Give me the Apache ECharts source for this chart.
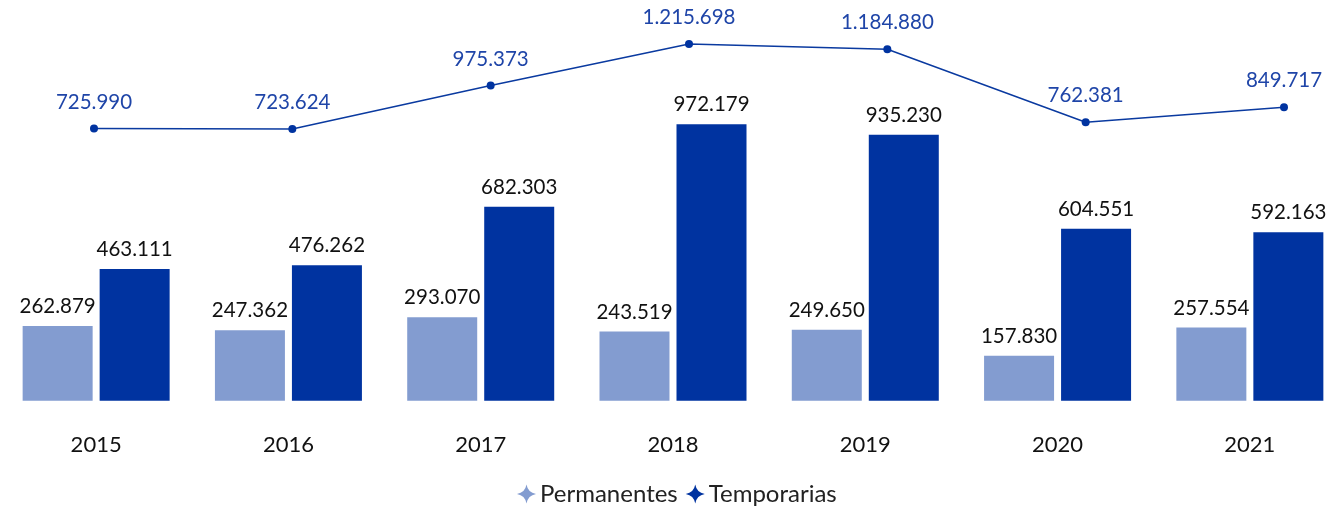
<!DOCTYPE html>
<html>
<head>
<meta charset="utf-8">
<script src="https://cdn.jsdelivr.net/npm/echarts@6/dist/echarts.min.js"></script>
<style>
  html, body { margin: 0; padding: 0; background: #fff; overflow: hidden; }
  #chart { width: 1346px; height: 510px; }
</style>
</head>
<body>
<div id="chart"></div>
<script>
// Data
const years = ['2015', '2016', '2017', '2018', '2019', '2020', '2021'];
const permanentes = [262879, 247362, 293070, 243519, 249650, 157830, 257554];
const temporarias = [463111, 476262, 682303, 972179, 935230, 604551, 592163];
const totales = [725990, 723624, 975373, 1215698, 1184880, 762381, 849717];

const chart = echarts.init(document.getElementById('chart'));

// Spanish thousands separator
function fmt(v) {
  return String(v).replace(/\B(?=(\d{3})+(?!\d))/g, '.');
}

const star = 'path://M0,-10 Q1.5,-1.5 10,0 Q1.5,1.5 0,10 Q-1.5,1.5 -10,0 Q-1.5,-1.5 0,-10Z';
const font = 'Lato, "Open Sans", sans-serif';

const options = {
  textStyle: { fontFamily: font },
  grid: [
    { left: 0, right: 0, top: 20, height: 380.7 },
    { left: 94, right: 62, top: 20, height: 380.7 }
  ],
  legend: {
    bottom: -1,
    left: 512,
    data: [
      { name: 'Permanentes', icon: star },
      { name: 'Temporarias', icon: star }
    ],
    itemWidth: 19,
    itemHeight: 19,
    itemGap: 8,
    textStyle: { fontSize: 24, color: '#222', fontFamily: font, padding: [0, 0, 0, -1] }
  },
  xAxis: [
    {
      type: 'category',
      gridIndex: 0,
      data: years,
      axisLine: { show: false },
      axisTick: { show: false },
      axisLabel: { fontSize: 22, color: '#111', margin: 33, fontFamily: font }
    },
    {
      type: 'category',
      gridIndex: 1,
      data: years,
      boundaryGap: false,
      show: false
    }
  ],
  yAxis: [
    { type: 'value', gridIndex: 0, min: 0, max: 1338600, show: false, splitLine: { show: false } },
    { type: 'value', gridIndex: 1, min: -851524, max: 1354793, show: false, splitLine: { show: false } }
  ],
  series: [
    {
      name: 'Permanentes',
      type: 'bar',
      xAxisIndex: 0,
      yAxisIndex: 0,
      data: permanentes,
      barWidth: 70,
      barGap: '10%',
      itemStyle: { color: '#839cd0' },
      label: {
        show: true,
        position: 'top',
        distance: 9,
        fontSize: 20.5,
        color: '#111',
        fontFamily: font,
        formatter: p => fmt(p.value)
      }
    },
    {
      name: 'Temporarias',
      type: 'bar',
      xAxisIndex: 0,
      yAxisIndex: 0,
      data: temporarias,
      barWidth: 70,
      itemStyle: { color: '#0033a0' },
      label: {
        show: true,
        position: 'top',
        distance: 9,
        fontSize: 20.5,
        color: '#111',
        fontFamily: font,
        formatter: p => fmt(p.value)
      }
    },
    {
      name: 'Total',
      type: 'line',
      xAxisIndex: 1,
      yAxisIndex: 1,
      data: totales,
      symbol: 'circle',
      symbolSize: 8,
      lineStyle: { color: '#0a3aa0', width: 1.5 },
      itemStyle: { color: '#0033a0' },
      label: {
        show: true,
        position: 'top',
        distance: 12,
        fontSize: 20.5,
        color: '#1f45a8',
        fontFamily: font,
        formatter: p => fmt(p.value)
      }
    }
  ]
};

chart.setOption(options);
</script>
</body>
</html>
